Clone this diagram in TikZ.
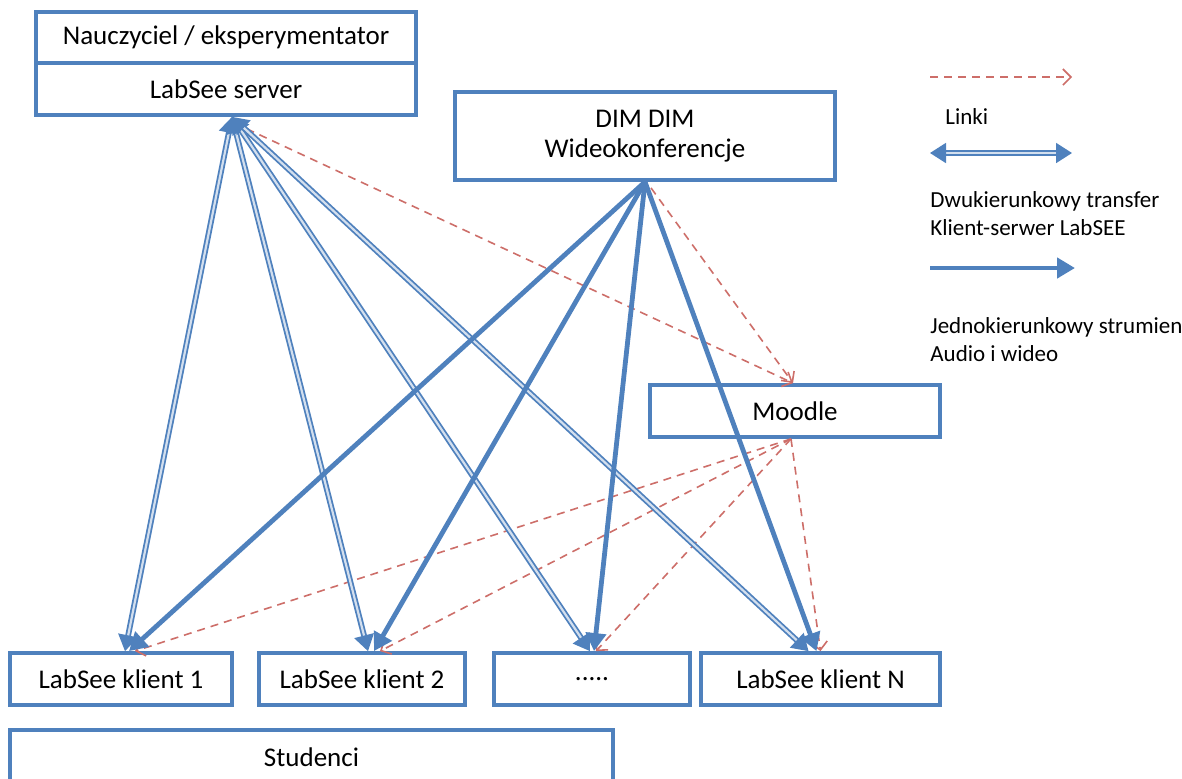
\documentclass[tikz,border=0pt]{standalone}
\usepackage{fontspec}
\setmainfont{Carlito}
\usetikzlibrary{arrows.meta}
\definecolor{boxblue}{RGB}{79,129,189}
\definecolor{linkred}{RGB}{205,110,105}
\begin{document}
\begin{tikzpicture}[x=0.5pt,y=-0.5pt,
	box/.style={draw=boxblue,line width=1.9pt,fill=white,inner sep=0pt,font=\fontsize{13.5}{15}\selectfont},
	link/.style={draw=linkred,line width=0.8pt,dash pattern=on 4pt off 3pt,-{Straight Barb[length=4pt,width=8pt]}},
	transfer/.style={draw=boxblue,double=boxblue!25!white,double distance=1.1pt,line width=0.9pt,{Triangle[length=8pt,width=10pt]}-{Triangle[length=8pt,width=10pt]}},
	stream/.style={draw=boxblue,line width=2.4pt,-{Triangle[length=9pt,width=10pt]}},
	legend/.style={anchor=west,align=left,inner sep=0pt,font=\fontsize{11.5}{14}\selectfont}]
	\useasboundingbox (0,0) rectangle (1182,778);
	\node [box,minimum width=190pt,minimum height=25.5pt] (n) at (226,37.5) {Nauczyciel / eksperymentator};
	\node [box,minimum width=190pt,minimum height=26pt] (s) at (226,89) {LabSee server};
	\node [box,minimum width=190pt,minimum height=44pt,align=center] (w) at (645,136) {DIM DIM\\Wideokonferencje};
	\node [box,minimum width=145pt,minimum height=26pt] (m) at (795,411) {Moodle};
	\node [box,minimum width=111pt,minimum height=26pt] (k1) at (121,679) {LabSee klient 1};
	\node [box,minimum width=103pt,minimum height=26pt] (k2) at (362,679) {LabSee klient 2};
	\node [box,minimum width=98pt,minimum height=26pt] (kd) at (592,679) {.....};
	\node [box,minimum width=119.5pt,minimum height=26pt] (kn) at (820.5,679) {LabSee klient N};
	\node [box,minimum width=301.5pt,minimum height=27pt] (st) at (311.5,757) {Studenci};
	\draw [link] ([xshift=4pt,yshift=-3pt]s.south) -- ([xshift=-1pt]m.north);
	\draw [link] ([xshift=3pt,yshift=-3pt]w.south) -- ([xshift=-1pt]m.north);
	\draw [link] ([xshift=-2pt]m.south) -- ([xshift=7pt]k1.north);
	\draw [link] ([xshift=-2pt]m.south) -- ([xshift=9pt]k2.north);
	\draw [link] ([xshift=-2pt]m.south) -- ([xshift=2pt]kd.north);
	\draw [link] ([xshift=-2pt]m.south) -- ([xshift=0pt]kn.north);
	\draw [transfer] ([xshift=3pt]s.south) -- ([xshift=2pt]k1.north);
	\draw [transfer] ([xshift=3pt]s.south) -- ([xshift=3pt]k2.north);
	\draw [transfer] ([xshift=3pt]s.south) -- ([xshift=-1pt]kd.north);
	\draw [transfer] ([xshift=3pt]s.south) -- ([xshift=-6pt]kn.north);
	\draw [stream] (w.south) -- ([xshift=4pt]k1.north);
	\draw [stream] (w.south) -- ([xshift=6pt]k2.north);
	\draw [stream] (w.south) -- ([xshift=1pt]kd.north);
	\draw [stream] (w.south) -- ([xshift=-2pt]kn.north);
	\coordinate (a1) at (930,77);
	\coordinate (a2) at (1072,77);
	\coordinate (b1) at (930,153);
	\coordinate (b2) at (1072,153);
	\coordinate (c1) at (930,268);
	\coordinate (c2) at (1075,268);
	\draw [link] (a1) -- (a2);
	\draw [transfer] (b1) -- (b2);
	\draw [stream] (c1) -- (c2);
	\node [legend] (la) at (945,117) {Linki};
	\node [legend] (lb) at (930,214) {Dwukierunkowy transfer\\Klient-serwer LabSEE};
	\node [legend] (lc) at (930,340) {Jednokierunkowy strumien\\Audio i wideo};
\end{tikzpicture}
\end{document}
